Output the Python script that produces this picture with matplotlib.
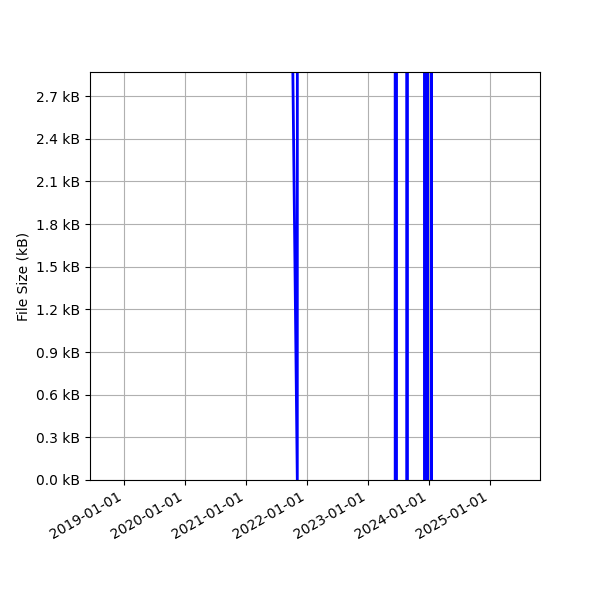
import numpy as np
import pandas as pd
import matplotlib
matplotlib.use("Agg")
import matplotlib.pyplot as plt
import matplotlib.dates as mdates
from matplotlib.ticker import FuncFormatter

# commit dates and file sizes (kB)
dates = ["2018-10-12", "2021-09-01", "2021-11-04", "2021-11-06",
         "2023-06-12", "2023-06-13", "2023-06-21", "2023-06-22",
         "2023-08-22", "2023-08-23", "2023-08-24",
         "2023-12-07", "2023-12-08", "2023-12-09",
         "2023-12-12", "2023-12-13", "2023-12-14",
         "2023-12-17", "2023-12-18", "2023-12-19",
         "2023-12-22", "2023-12-23", "2023-12-24",
         "2024-01-16", "2024-01-17", "2024-01-18",
         "2025-06-26"]
sizes_kb = [10.0, 6.9, 0.0, 20.0,
            20.0, 0.0, 0.0, 20.0,
            20.0, 0.0, 20.0,
            20.0, 0.0, 20.0,
            20.0, 0.0, 20.0,
            20.0, 0.0, 20.0,
            20.0, 0.0, 20.0,
            20.0, 0.0, 20.0,
            20.0]

dates = pd.to_datetime(dates)

fig, ax = plt.subplots(figsize=(6, 6), dpi=100)
ax.plot(dates, sizes_kb, color="blue", linewidth=2)

ax.set_ylim(0, 2.87)
ax.set_xlim(pd.Timestamp("2018-06-12"), pd.Timestamp("2025-10-27"))
ax.yaxis.set_major_locator(plt.MultipleLocator(0.3))
ax.yaxis.set_major_formatter(FuncFormatter(lambda v, p: f"{v:.1f} kB"))
ax.xaxis.set_major_locator(mdates.YearLocator())
ax.xaxis.set_major_formatter(mdates.DateFormatter("%Y-%m-%d"))
ax.set_ylabel("File Size (kB)")
ax.grid(True)

fig.autofmt_xdate()
fig.subplots_adjust(left=0.15)
fig.savefig("out.png")
